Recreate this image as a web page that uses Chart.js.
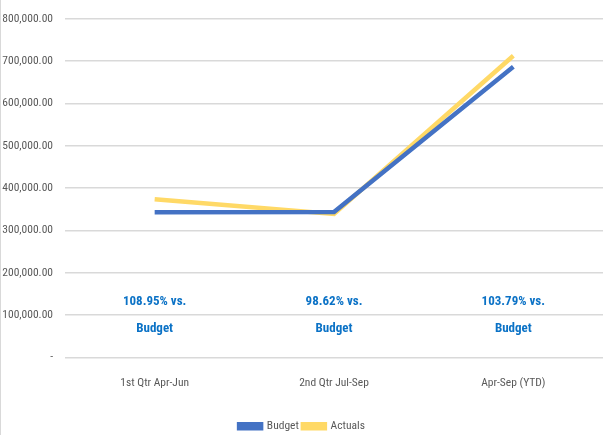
<!DOCTYPE html>
<html>
<head>
<meta charset="utf-8">
<script src="https://cdn.jsdelivr.net/npm/chart.js@4"></script>
<style>
  html, body { margin: 0; padding: 0; background: #fff; }
  #wrap { width: 603px; height: 435px; position: relative; border-left: 1px solid #d9d9d9; box-sizing: border-box; }
</style>
</head>
<body>
<div id="wrap"><canvas id="cuadro"></canvas></div>
<script>
const categorias = ["1st Qtr Apr-Jun", "2nd Qtr Jul-Sep", "Apr-Sep (YTD)"];
const budget = [343000, 344000, 687000];
const actuals = [373700, 339300, 713000];
const etiquetas = [["108.95% vs.", "Budget"], ["98.62% vs.", "Budget"], ["103.79% vs.", "Budget"]];
const etiqueta_y = [100000, 100000, 100000];

const fuente = "'Roboto Condensed', 'Liberation Sans', sans-serif";

// dibuja los textos azules sobre cada categoria
const textos = {
  id: 'textos',
  afterDatasetsDraw(chart) {
    const ctx = chart.ctx;
    const x = chart.scales.x;
    const y = chart.scales.y;
    ctx.save();
    ctx.fillStyle = "#0B72C6";
    ctx.font = "bold 13px " + fuente;
    ctx.textAlign = "center";
    ctx.textBaseline = "middle";
    for (let i = 0; i < etiquetas.length; i++) {
      const px = x.getPixelForValue(i);
      const py = y.getPixelForValue(etiqueta_y[i]);
      ctx.fillText(etiquetas[i][0], px, py - 13);
      ctx.fillText(etiquetas[i][1], px, py + 14);
    }
    ctx.restore();
  }
};

const ctx = document.getElementById("cuadro");

let cuadro = new Chart(ctx, {
  type: "line",
  data: {
    labels: categorias,
    datasets: [
      {
        label: "Budget",
        data: budget,
        borderColor: "#4472C4",
        backgroundColor: "#4472C4",
        borderWidth: 4.5,
        pointRadius: 0,
        tension: 0
      },
      {
        label: "Actuals",
        data: actuals,
        borderColor: "#FFD966",
        backgroundColor: "#FFD966",
        borderWidth: 4.5,
        pointRadius: 0,
        tension: 0
      }
    ]
  },
  options: {
    responsive: true,
    maintainAspectRatio: false,
    animation: false,
    layout: { padding: { top: 5, right: 0, left: 0, bottom: -7 } },
    plugins: {
      legend: {
        position: "bottom",
        labels: {
          boxWidth: 22,
          boxHeight: 4,
          padding: 4,
          color: "#595959",
          font: { family: fuente, size: 11.5 }
        }
      },
      tooltip: { enabled: false }
    },
    scales: {
      x: {
        offset: true,
        grid: { display: false },
        border: { display: false },
        ticks: { color: "#595959", font: { family: fuente, size: 11.5 }, padding: 11 },
        afterFit: (scale) => { scale.height = 59; }
      },
      y: {
        min: 0,
        max: 800000,
        grid: { color: "#d9d9d9", lineWidth: 1.5, drawTicks: false },
        border: { display: false },
        ticks: {
          stepSize: 100000,
          color: "#595959",
          padding: 12,
          font: { family: fuente, size: 11.5 },
          callback: (v) => v === 0 ? "-" : v.toLocaleString("en-US", { minimumFractionDigits: 2, maximumFractionDigits: 2 })
        },
        afterFit: (scale) => { scale.width = 64; }
      }
    }
  },
  plugins: [textos]
});
</script>
</body>
</html>
